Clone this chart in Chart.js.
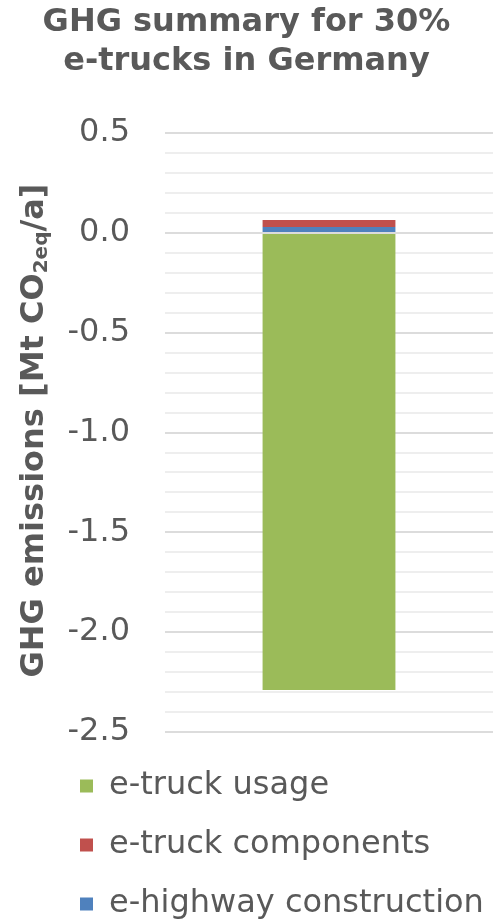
<!DOCTYPE html>
<html>
<head>
<meta charset="utf-8">
<script src="https://cdn.jsdelivr.net/npm/chart.js@4/dist/chart.umd.min.js"></script>
<style>
  html, body { margin: 0; padding: 0; background: #ffffff; }
  #wrap { position: relative; width: 493px; height: 924px; }
</style>
</head>
<body>
<div id="wrap"><canvas id="chart"></canvas></div>
<script>
// Data
const categories = ['30% e-trucks'];
const seriesNames = ['e-truck usage', 'e-truck components', 'e-highway construction'];
const truckUsage = [-2.29];
const truckComponents = [0.035];
const highwayConstruction = [0.03];
const yTickLabels = ['0.5', '0.0', '-0.5', '-1.0', '-1.5', '-2.0', '-2.5'];
const titleLines = ['GHG summary for 30%', 'e-trucks in Germany'];
const yTitleParts = [
  { text: 'GHG emissions [Mt CO', sub: false },
  { text: '2eq', sub: true },
  { text: '/a]', sub: false }
];

const FONT = "'DejaVu Sans', 'Noto Sans', sans-serif";
const TEXT_COLOR = '#595959';
const tickValues = yTickLabels.map(Number);
const isLabelled = v => tickValues.some(t => Math.abs(t - v) < 1e-6);

// Moves the bottom legend in from the left edge
const legendIndent = {
  id: 'legendIndent',
  afterLayout(chart, args, opts) {
    if (chart.legend) chart.legend.left += opts.indent || 0;
  }
};

// Rotated y-axis title with a subscript part
const rotatedAxisTitle = {
  id: 'rotatedAxisTitle',
  afterDraw(chart, args, opts) {
    const { ctx, chartArea } = chart;
    const mainFont = `bold ${opts.size}px ${FONT}`;
    const subFont = `bold ${opts.subSize}px ${FONT}`;
    ctx.save();
    let total = 0;
    const widths = opts.parts.map(p => {
      ctx.font = p.sub ? subFont : mainFont;
      const w = ctx.measureText(p.text).width;
      total += w;
      return w;
    });
    const cy = (chartArea.top + chartArea.bottom) / 2 + (opts.shift || 0);
    ctx.translate(opts.x, cy);
    ctx.rotate(-Math.PI / 2);
    ctx.fillStyle = opts.color;
    ctx.textAlign = 'left';
    ctx.textBaseline = 'alphabetic';
    let x = -total / 2;
    opts.parts.forEach((p, i) => {
      ctx.font = p.sub ? subFont : mainFont;
      ctx.fillText(p.text, x, p.sub ? opts.baseline + opts.subShift : opts.baseline);
      x += widths[i];
    });
    ctx.restore();
  }
};

new Chart(document.getElementById('chart'), {
  type: 'bar',
  data: {
    labels: categories,
    datasets: [
      { label: seriesNames[0], data: truckUsage, backgroundColor: '#9BBB59', order: 0 },
      { label: seriesNames[1], data: truckComponents, backgroundColor: '#C0504D', order: 2 },
      { label: seriesNames[2], data: highwayConstruction, backgroundColor: '#4F81BD', order: 1 }
    ]
  },
  options: {
    responsive: true,
    maintainAspectRatio: false,
    animation: false,
    layout: { padding: 0 },
    datasets: { bar: { barPercentage: 0.405, categoryPercentage: 1 } },
    scales: {
      x: {
        stacked: true,
        grid: { display: false },
        border: { display: false },
        ticks: { display: false },
        afterFit: s => { s.height = 11; }
      },
      y: {
        stacked: true,
        min: Math.min(...tickValues),
        max: Math.max(...tickValues),
        afterFit: s => { s.width = 165; },
        border: { display: false },
        grid: {
          drawTicks: false,
          lineWidth: 2,
          color: c => (c.tick && isLabelled(c.tick.value)) ? '#dcdcdc' : '#eeeeee'
        },
        ticks: {
          stepSize: 0.1,
          maxTicksLimit: 40,
          autoSkip: false,
          padding: 35,
          color: TEXT_COLOR,
          font: { family: FONT, size: 32 },
          callback: v => {
            const label = yTickLabels.find(l => Math.abs(Number(l) - v) < 1e-6);
            return label === undefined ? '' : label;
          }
        }
      }
    },
    plugins: {
      title: {
        display: true,
        text: titleLines,
        color: TEXT_COLOR,
        font: { family: FONT, size: 32, weight: 'bold', lineHeight: 1.22 },
        padding: { top: 3.5, bottom: 51.5 }
      },
      legend: {
        position: 'bottom',
        align: 'start',
        maxHeight: 181,
        labels: {
          boxWidth: 13,
          boxHeight: 13,
          padding: 27,
          color: TEXT_COLOR,
          font: { family: FONT, size: 32 },
          sort: (a, b) => a.datasetIndex - b.datasetIndex
        }
      },
      tooltip: { enabled: false },
      legendIndent: { indent: 53 },
      rotatedAxisTitle: {
        parts: yTitleParts,
        size: 32,
        subSize: 20,
        x: 31,
        baseline: 12,
        subShift: 4,
        shift: -2,
        color: TEXT_COLOR
      }
    }
  },
  plugins: [legendIndent, rotatedAxisTitle]
});
</script>
</body>
</html>
